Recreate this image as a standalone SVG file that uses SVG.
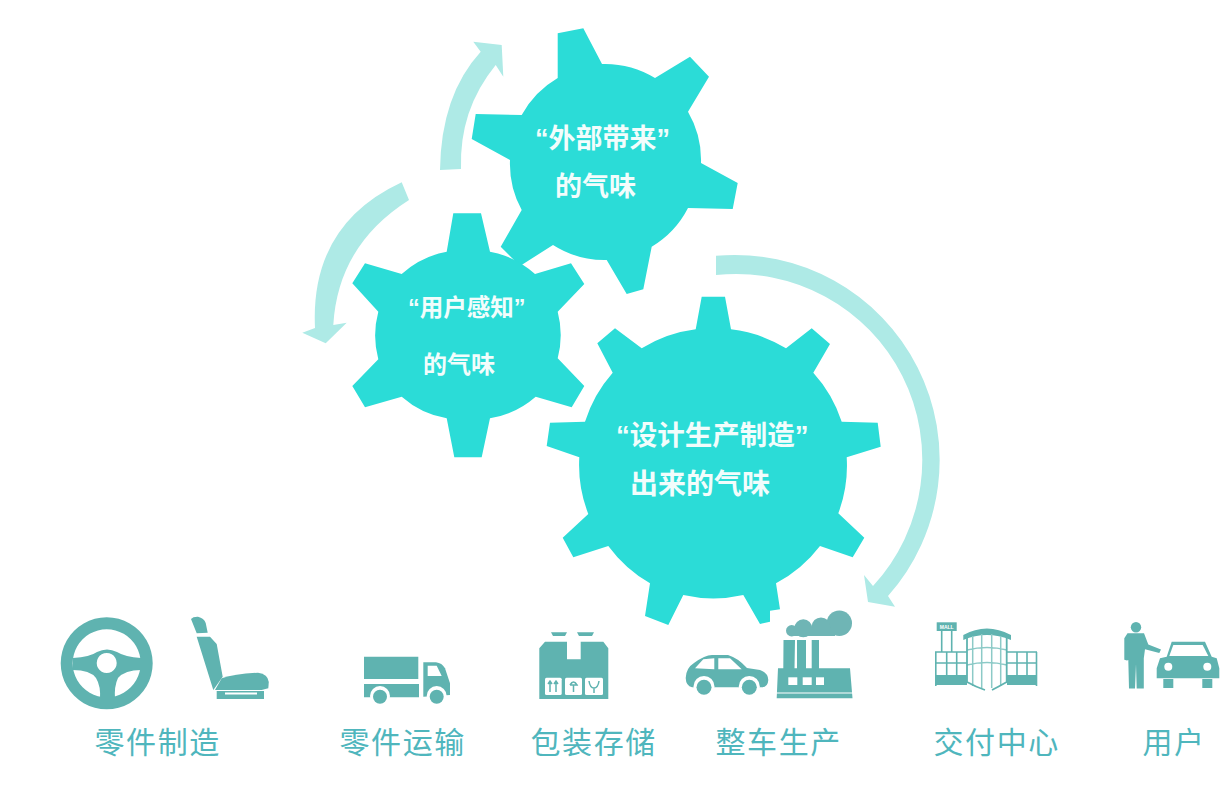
<svg xmlns="http://www.w3.org/2000/svg" width="1232" height="798" viewBox="0 0 1232 798">
<style>
.gear{fill:#2bdcd7}
.arrow{fill:#aeeae6}
.icon{fill:#5fb3b0}
.hole{fill:#fff}
.line{fill:none;stroke:#5fb3b0}
.pale{fill:none;stroke:#8ccac7}
.gt{font-family:"Liberation Sans","Noto Sans CJK SC",sans-serif;font-weight:700;fill:#f2fdfc}
.lb{font-family:"Noto Sans CJK SC",sans-serif;font-size:30px;letter-spacing:1.6px;font-weight:400;fill:#4fb6bd}
</style>
<rect width="1232" height="798" fill="#fff"/>
<g id="connectors">
<path class="arrow" d="M440,170Q441,95 480.7,51.7L473.3,41.7L501.7,45L503.3,76.7L495.7,65Q459,110 461,169Z"/>
<path class="arrow" d="M401.7,182.3Q310,225 315,328L302.3,332.7L325.7,343.3L346.7,322.7L333.3,325Q338,245 409,200Z"/>
<path class="arrow" d="M716,255.8A205,205 0 0 1 888,596L895,606.7L868,602L864,575L873,586A186,186 0 0 0 716,275Z"/>
</g>
<g id="gear-external">
<path class="gear" d="M557.7,33.3L583.3,28.3L602,64A96,96 0 0 1 655,78L690,56.7L709,76.7L688,111.7A96,96 0 0 1 701,163L737.7,183L732.7,209L688,208A96,96 0 0 1 651.7,246.7L643.3,289.3L626.7,294L606.7,260A96,96 0 0 1 553,245L520,266L500.7,246.7L521.7,210A96,96 0 0 1 510,160L471.7,139L475.7,114L521.7,115A96,96 0 0 1 557.7,78Z"/>
<text class="gt" font-size="27" x="535" y="148">“外部带来”</text>
<text class="gt" font-size="27" x="555" y="196">的气味</text>
</g>
<g id="gear-perceived">
<path class="gear" d="M453.3,213.3L481,213.3L490,251.7A92,92 0 0 1 535,274L571,263.3L584.3,284L557.7,311.7A92,92 0 0 1 557.7,358.3L584.3,386L571.7,407.3L535.7,396.7A92,92 0 0 1 490,418.3L481.7,457.3L454.3,457.3L446.7,418.3A92,92 0 0 1 401.7,396.7L365,407.3L352.3,386L378.3,359.3A92,92 0 0 1 378.3,311.7L352.3,283.3L365,263.3L401.7,274A92,92 0 0 1 446.7,251.7Z"/>
<text class="gt" font-size="23.5" x="408" y="316">“用户感知”</text>
<text class="gt" font-size="24" x="423" y="373">的气味</text>
</g>
<g id="gear-design">
<path class="gear" d="M701.7,296.7L725,296.7L731,329.3A135,135 0 0 1 786,348.3L811.7,328.3L830,344L813.3,372.7A135,135 0 0 1 841.7,421.7L877.7,422.7L880.7,446.7L846.7,457.3A135,135 0 0 1 838.3,513.3L864.3,537.7L852.7,557.3L820,546A135,135 0 0 1 776,583.3L780,609.3L770,610.7L770,621.7L760,624L743.3,595A135,135 0 0 1 683.3,595L668.3,625L645,616L650,583.3A135,135 0 0 1 608.3,546L573.3,557.3L562.7,537.7L588.3,514A135,135 0 0 1 579.3,457.3L546.7,446L550,422.7L585,421.7A135,135 0 0 1 612.7,372.7L597.3,343.3L615,328.3L641.7,348.3A135,135 0 0 1 695.7,329.3Z"/>
<text class="gt" font-size="27.5" x="616" y="445">“设计生产制造”</text>
<text class="gt" font-size="28" x="630" y="494">出来的气味</text>
</g>
<g id="parts">
<path class="icon" fill-rule="evenodd" d="M106.7,617.3a46,46 0 1 0 .01,0ZM106.7,629.3a34,34 0 1 1 -.01,0Z"/>
<path class="icon" fill-rule="evenodd" d="M73,658Q90,657 97,652Q107,647 117,652Q125,657 141,658V670Q125,670 118,678Q114,686 115,700H100Q101,686 96,678Q90,670 73,670ZM106.7,653a10,10 0 1 0 .01,0Z"/>
<path class="icon" d="M191,619Q193,616.5 198,616.7Q204,618 205.7,623L207.7,632.7L196.7,633.3ZM196.7,636.7L210,636.7L216.7,644L222.7,676.7L213.3,690Z"/>
<path class="icon" d="M215,690L221.7,678.3Q235,674 258,672.7Q268,674 268.8,682L268.3,688.3L261.7,690Z"/>
<path class="icon" d="M216.7,691H264V699H216.7Z"/>
<rect class="hole" x="225" y="692.5" width="32" height="2"/>
<text class="lb" x="94.500" y="753">零件制造</text>
</g>
<g id="transport">
<path class="icon" d="M364,656.7H418.3V679H364ZM364,684H419V697.3H364Z"/>
<path class="icon" d="M423.3,662.3H436Q442,663 445,668.3L450,683.3V695L423.3,696.7Z"/>
<path class="hole" d="M427.7,665.7H436.7L441.7,676H427.7Z"/>
<circle class="hole" cx="380" cy="696" r="10"/><circle class="icon" cx="380" cy="696.7" r="7"/>
<circle class="hole" cx="436.7" cy="696" r="10"/><circle class="icon" cx="436.7" cy="696.7" r="7"/>
<text class="lb" x="339.500" y="753">零件运输</text>
</g>
<g id="storage">
<path class="icon" d="M551,632.3H567L565,636H553ZM577,632.3H594L592,636H579Z"/>
<path class="icon" d="M545,641.7H567V659.3H580.7V641.700H603.3L608.3,648.3V699H539.3V648.3Z"/>
<rect class="hole" x="545" y="677.700" width="16.7" height="17.300" rx="1.500"/>
<rect class="hole" x="565" y="677.700" width="17" height="17.300" rx="1.500"/>
<rect class="hole" x="585" y="677.700" width="18" height="17.300" rx="1.500"/>
<path class="line" stroke-width="1.5" d="M550,692V682M548,684L550,681L552,684M556,692V682M554,684L556,681L558,684M570,685Q573.500,679 577,685H570M573.500,685V692M589,681Q590,688 594,688Q598,688 599,681M594,688V693"/>
<text class="lb" x="530.500" y="753">包装存储</text>
</g>
<g id="assembly">
<path class="icon" d="M685.7,678Q686,668 694,663Q705,655 712,655H728Q738,658 747,668L760,670Q768,673 768.300,680Q768,687 762,687.300H692Q686,686 685.7,678Z"/>
<path class="hole" d="M695,668.3L703.3,659.3L714.3,658.3V669.3ZM718.3,658.3H730L741.7,669.3H718.3Z"/>
<circle class="hole" cx="704" cy="686.5" r="10.5"/><circle class="icon" cx="704" cy="687.3" r="7.5"/>
<circle class="hole" cx="749.3" cy="686.5" r="10.5"/><circle class="icon" cx="749.3" cy="687.3" r="7.5"/>
<path class="icon" d="M783.5,640H795L794.500,668.3H797V640H806V668.3H811.7V640H819V668.3H850L852.500,698.3H776.700L778,668.300H783.300Z"/>
<rect class="hole" x="788.3" y="677.3" width="9" height="7.7"/><rect class="hole" x="802.7" y="677.3" width="9" height="7.7"/><rect class="hole" x="816" y="677.3" width="8" height="7.7"/>
<rect class="hole" x="776" y="692.500" width="77" height="1"/>
<g fill="#6fb5b5"><circle cx="839.3" cy="623.3" r="12.7"/><circle cx="821" cy="626.700" r="9.300"/><circle cx="803.3" cy="628.300" r="9"/><circle cx="791.7" cy="630.7" r="5.700"/><rect x="790" y="628" width="45" height="8"/></g>
<text class="lb" x="715.500" y="753">整车生产</text>
</g>
<g id="delivery">
<rect class="icon" x="936.7" y="622.3" width="20" height="8.700"/>
<text x="946.700" y="628.500" text-anchor="middle" font-family="Liberation Sans,sans-serif" font-size="5" font-weight="700" fill="#fff">MALL</text>
<path class="line" stroke-width="1.6" d="M941.700,631V652M951.700,631V652"/>
<path class="icon" d="M935,675H967V685H935ZM1007,675H1037V685H1007Z"/>
<path class="line" stroke-width="1.6" d="M935,652H967M1007,652H1037M935,663H967M1007,663H1037M935.800,652V686M946.700,652V675M956.700,652V675M1017,652V675M1027,652V675M1036.500,652V686"/>
<path class="icon" d="M963.300,635Q986.700,622 1011,635L1011,640Q986.700,630 963.300,640Z"/>
<path class="pale" stroke-width="1.500" d="M972.700,636V686M981.700,634V688M991.700,634V688M1000.700,636V686M967,650Q987,645 1007,650M967,665Q987,660 1007,665"/>
<path class="line" stroke-width="1.800" d="M967,638V682Q976,687 985,690M1006.700,638V682Q998,687 992,690"/>
<text class="lb" x="933.500" y="753">交付中心</text>
</g>
<g id="user">
<circle class="icon" cx="1136" cy="627.3" r="5.200"/>
<path class="icon" d="M1127.500,633.3H1144L1148.300,644.500L1161,649.500L1159.300,653L1145,649.300L1143.800,658.3V688.500H1136.700L1136,664L1135,688.500H1129L1128.300,660L1127,660.500L1124.300,659.800V638.3Z"/>
<path class="icon" d="M1156.700,668.3L1160,658.3L1166.700,656.7L1171.700,641.7H1205L1211.700,656.7L1216.700,658.3L1219.300,668.3V678.300H1156.700Z"/>
<path class="hole" d="M1173.3,645H1202.700L1208.300,656H1169.300Z"/>
<circle class="hole" cx="1168.3" cy="666.7" r="4"/><circle class="hole" cx="1207.300" cy="666.7" r="4"/>
<rect class="icon" x="1163.3" y="679" width="10" height="9"/><rect class="icon" x="1202.300" y="679" width="10" height="9"/>
<text class="lb" x="1142.500" y="753">用户</text>
</g>
</svg>
